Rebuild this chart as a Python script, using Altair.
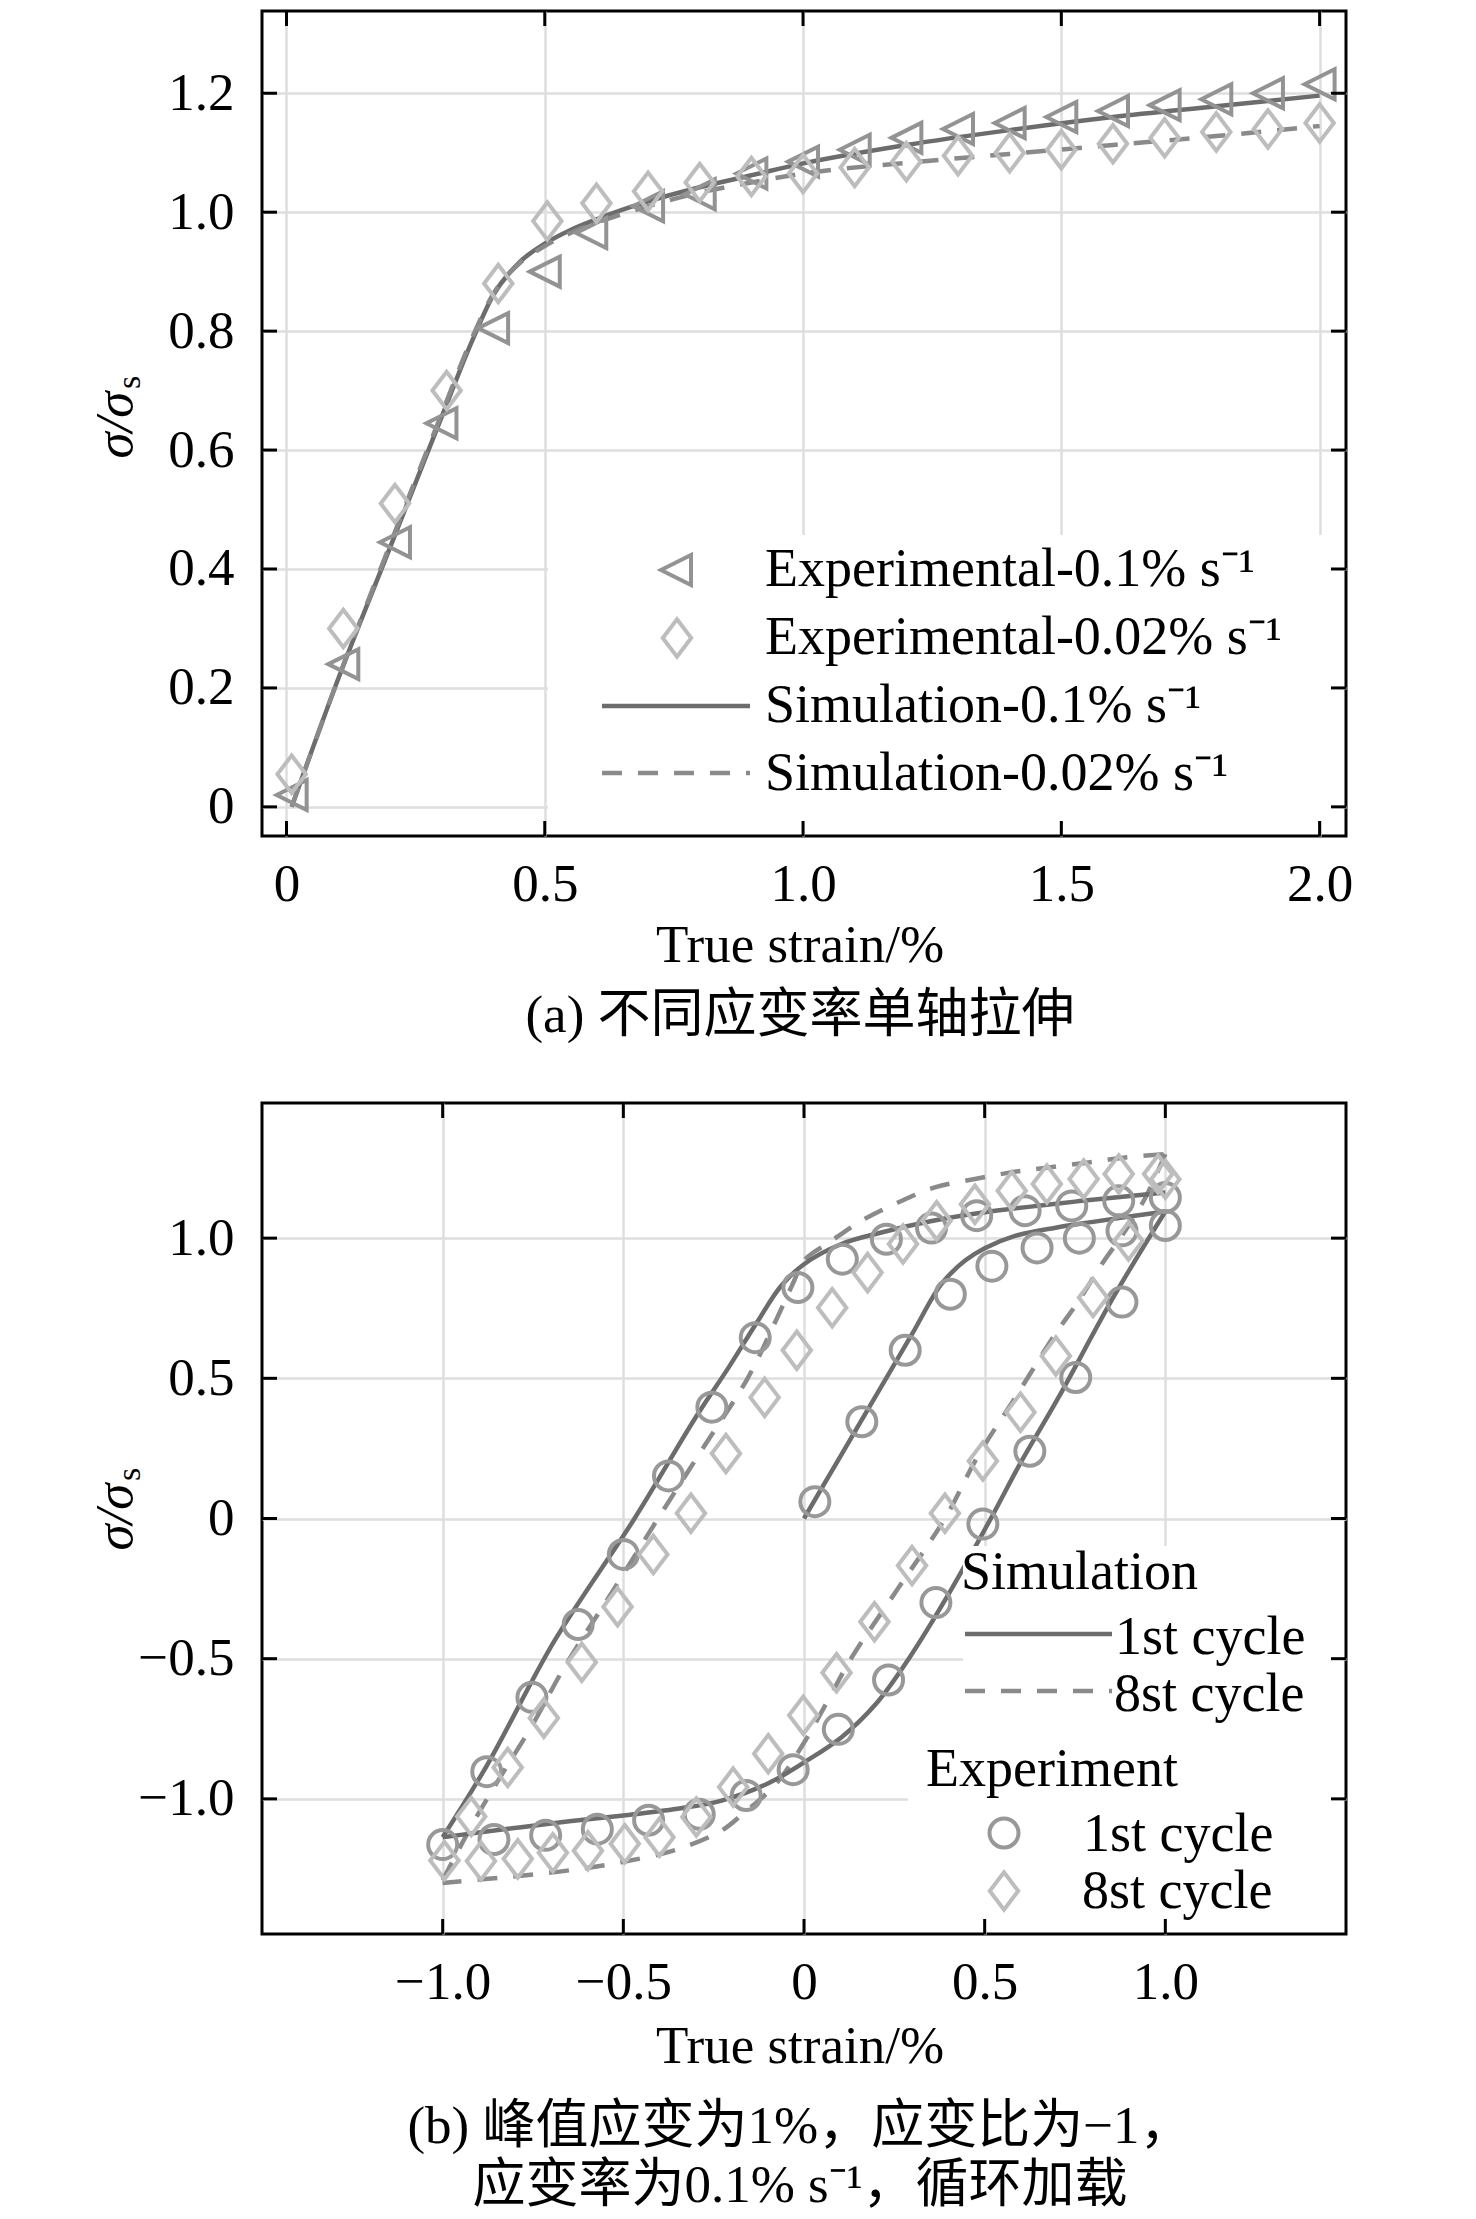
import altair as alt
import pandas as pd

SERIF = "Liberation Serif"
CJK = "Liberation Serif, Noto Sans CJK SC"
FS = 53
LFS = 54

# ---------------- panel (a) data ----------------
a_tri_x = [0.01, 0.11, 0.21, 0.30, 0.40, 0.50, 0.59, 0.70, 0.80, 0.90, 1.00,
           1.10, 1.20, 1.30, 1.40, 1.50, 1.60, 1.70, 1.80, 1.90, 2.00]
a_tri_y = [0.02, 0.24, 0.445, 0.645, 0.805, 0.90, 0.965, 1.01, 1.03, 1.065, 1.085,
           1.105, 1.125, 1.14, 1.15, 1.16, 1.17, 1.18, 1.19, 1.20, 1.215]
a_dia_x = [0.01, 0.11, 0.21, 0.31, 0.41, 0.505, 0.60, 0.70, 0.80, 0.90, 1.00,
           1.10, 1.20, 1.30, 1.40, 1.50, 1.60, 1.70, 1.80, 1.90, 2.00]
a_dia_y = [0.055, 0.30, 0.51, 0.70, 0.88, 0.985, 1.015, 1.035, 1.05, 1.06, 1.065,
           1.075, 1.085, 1.095, 1.10, 1.105, 1.115, 1.125, 1.135, 1.14, 1.15]
a_sim_x = [0.01, 0.1, 0.2, 0.3, 0.36, 0.4, 0.45, 0.5, 0.55, 0.6, 0.7, 0.8, 0.9,
           1.0, 1.2, 1.4, 1.6, 1.8, 2.0]
a_sim_fast = [0.0, 0.215, 0.435, 0.655, 0.785, 0.86, 0.915, 0.947, 0.97, 0.988, 1.018,
              1.042, 1.062, 1.082, 1.113, 1.138, 1.16, 1.178, 1.196]
a_sim_slow = [0.0, 0.215, 0.44, 0.66, 0.79, 0.862, 0.913, 0.943, 0.965, 0.982, 1.01,
              1.033, 1.05, 1.065, 1.083, 1.098, 1.113, 1.128, 1.145]
a_xticks = [0, 0.5, 1.0, 1.5, 2.0]
a_yticks = [0, 0.2, 0.4, 0.6, 0.8, 1.0, 1.2]

# ---------------- panel (b) data ----------------
# simulation, 1st cycle: initial loading / unloading / reloading
b_s1_load_x = [0.0, 0.1, 0.2, 0.3, 0.38, 0.445, 0.5, 0.584, 0.7, 0.8, 0.9, 1.0]
b_s1_load_y = [0.0, 0.22, 0.44, 0.66, 0.836, 0.919, 0.964, 1.008, 1.038, 1.058, 1.077, 1.095]
b_s1_unl_x = [1.0, 0.861, 0.704, 0.6, 0.517, 0.4, 0.29, 0.2, 0.104, 0.0, -0.1, -0.228,
              -0.35, -0.506, -0.65, -0.783, -0.9, -1.0]
b_s1_unl_y = [1.095, 0.80, 0.431, 0.2, 0.0, -0.27, -0.5, -0.66, -0.78, -0.87, -0.945, -1.006,
              -1.035, -1.06, -1.08, -1.101, -1.12, -1.137]
b_s1_rel_x = [-1.0, -0.875, -0.69, -0.469, -0.3, -0.208, -0.13, -0.063, 0.0, 0.1035,
              0.214, 0.35, 0.5, 0.77, 1.0]
b_s1_rel_y = [-1.137, -0.875, -0.435, 0.0, 0.36, 0.54, 0.70, 0.83, 0.907, 0.979,
              1.02, 1.06, 1.092, 1.133, 1.163]
# simulation, 8th cycle: unloading / reloading
b_s8_unl_x = [1.0, 0.945, 0.889, 0.824, 0.76, 0.695, 0.584, 0.48, 0.39, 0.26, 0.13, 0.07,
              0.0, -0.08, -0.17, -0.228, -0.35, -0.506, -0.65, -0.783, -0.9, -1.0]
b_s8_unl_y = [1.30, 1.145, 1.026, 0.907, 0.776, 0.657, 0.43, 0.22, 0.0, -0.25, -0.5, -0.64,
              -0.80, -0.95, -1.054, -1.113, -1.18, -1.226, -1.255, -1.274, -1.288, -1.30]
b_s8_rel_x = [-1.0, -0.912, -0.83, -0.755, -0.663, -0.53, -0.404, -0.28, -0.156, -0.08,
              -0.03, 0.0, 0.076, 0.159, 0.26, 0.362, 0.473, 0.575, 0.677, 0.787, 0.889, 1.0]
b_s8_rel_y = [-1.29, -1.077, -0.90, -0.744, -0.53, -0.26, 0.0, 0.25, 0.5, 0.70,
              0.84, 0.92, 0.99, 1.062, 1.127, 1.181, 1.211, 1.235, 1.252, 1.27, 1.288, 1.30]
# experiment, 1st cycle (circles)
b_c1_x = [0.03, 0.16, 0.28, 0.405, 0.52, 0.645, 0.762, 0.88, 1.0,
          0.88, 0.752, 0.625, 0.495, 0.365, 0.234, 0.095, -0.03, -0.16, -0.29, -0.43,
          -0.572, -0.715, -0.858, -1.0,
          -0.878, -0.753, -0.625, -0.5, -0.375, -0.255, -0.135, -0.017, 0.106, 0.228,
          0.353, 0.478, 0.612, 0.741, 0.871, 1.0]
b_c1_y = [0.06, 0.345, 0.60, 0.80, 0.90, 0.965, 1.0, 1.026, 1.045,
          0.772, 0.503, 0.24, -0.02, -0.30, -0.576, -0.752, -0.896, -0.988, -1.055, -1.076,
          -1.108, -1.13, -1.145, -1.163,
          -0.903, -0.638, -0.378, -0.128, 0.152, 0.397, 0.645, 0.824, 0.925, 0.996,
          1.036, 1.08, 1.098, 1.115, 1.133, 1.145]
# experiment, 8th cycle (diamonds)
b_c8_x = [-0.921, -0.82, -0.72, -0.615, -0.516, -0.417, -0.313, -0.216, -0.109, -0.02,
          0.078, 0.176, 0.274, 0.367, 0.473, 0.575, 0.672, 0.774, 0.871, 0.98, 1.0,
          0.898, 0.8, 0.697, 0.599, 0.495, 0.39, 0.299, 0.195, 0.09, -0.002, -0.099,
          -0.196, -0.298, -0.4, -0.496, -0.598, -0.695, -0.792, -0.894, -0.995]
b_c8_y = [-1.063, -0.888, -0.712, -0.513, -0.315, -0.128, 0.019, 0.232, 0.432, 0.60,
          0.752, 0.877, 0.979, 1.062, 1.121, 1.169, 1.193, 1.211, 1.229, 1.229, 1.21,
          0.99, 0.788, 0.58, 0.379, 0.205, 0.019, -0.168, -0.368, -0.55, -0.702, -0.839,
          -0.958, -1.065, -1.137, -1.16, -1.185, -1.192, -1.214, -1.222, -1.22]
b_ticks = [-1.0, -0.5, 0, 0.5, 1.0]

# ---------------- styling ----------------
W = 1084
HA = 825
HB = 831
TL = 15  # inward tick length

TRI = "M-1,0L1,-1L1,1Z"
DIA = "M0,-1L0.76,0L0,1L-0.76,0Z"
C_TRI = "#939393"
C_DIA = "#bdbdbd"
C_CIR = "#989898"
C_SOLID = "#6c6c6c"
C_DASH = "#8a8a8a"
GRID = "#dedede"
DASH = [20, 16]

dummy = pd.DataFrame({"d": [0]})


def axis(vals, pad):
    return alt.Axis(values=vals, title=None, ticks=False, domain=False, grid=True,
                    gridColor=GRID, gridWidth=2.5, labelFont=SERIF, labelFontSize=FS,
                    labelColor="black", labelPadding=pad, labelOverlap=False,
                    labelFlush=False,
                    labelExpr="datum.value == 0 ? '0' : format(datum.value, '.1f')")


def enc(xdom, ydom, xt, yt):
    X = alt.X("x:Q", scale=alt.Scale(domain=xdom, nice=False, zero=False), axis=axis(xt, 22))
    Y = alt.Y("y:Q", scale=alt.Scale(domain=ydom, nice=False, zero=False), axis=axis(yt, 28))
    return X, Y


def ticks(X, Y, xt, yt, H):
    dx = pd.DataFrame({"x": xt})
    dy = pd.DataFrame({"y": yt})
    r = dict(color="black", strokeWidth=3)
    return [
        alt.Chart(dx).mark_rule(**r).encode(x=X, y=alt.value(H), y2=alt.value(H - TL)),
        alt.Chart(dx).mark_rule(**r).encode(x=X, y=alt.value(0), y2=alt.value(TL)),
        alt.Chart(dy).mark_rule(**r).encode(y=Y, x=alt.value(0), x2=alt.value(TL)),
        alt.Chart(dy).mark_rule(**r).encode(y=Y, x=alt.value(W), x2=alt.value(W - TL)),
    ]


def txt(s, x, y, align="left", size=FS, font=SERIF, **kw):
    return alt.Chart(dummy).mark_text(text=s, align=align, baseline="alphabetic",
                                      font=font, fontSize=size, color="black", **kw).encode(
        x=alt.value(x), y=alt.value(y))


def sym(shape, size, color, x, y):
    return alt.Chart(dummy).mark_point(shape=shape, size=size, filled=False, color=color,
                                       strokeWidth=4, opacity=1).encode(
        x=alt.value(x), y=alt.value(y))


def box(x1, x2, y1, y2):
    return alt.Chart(dummy).mark_rect(color="white").encode(
        x=alt.value(x1), x2=alt.value(x2), y=alt.value(y1), y2=alt.value(y2))


def ytitle():
    return [
        alt.Chart(dummy).mark_text(text="σ/σ", angle=270, align="center", baseline="middle",
                                   font=SERIF, fontSize=FS, fontStyle="italic",
                                   color="black").encode(x=alt.value(-146), y=alt.value(414)),
        alt.Chart(dummy).mark_text(text="s", angle=270, align="left", baseline="middle",
                                   font=SERIF, fontSize=34, color="black").encode(
            x=alt.value(-132), y=alt.value(378)),
    ]


# ---------------- panel (a) ----------------
XA, YA = enc([-0.0474, 2.0511], [-0.049, 1.3383], a_xticks, a_yticks)
a_layers = [
    alt.Chart(pd.DataFrame({"x": a_sim_x, "y": a_sim_fast})).mark_line(
        color=C_SOLID, strokeWidth=4.5, interpolate="monotone").encode(x=XA, y=YA),
    alt.Chart(pd.DataFrame({"x": a_sim_x, "y": a_sim_slow})).mark_line(
        color=C_DASH, strokeWidth=4.5, strokeDash=DASH, interpolate="monotone").encode(x=XA, y=YA),
    alt.Chart(pd.DataFrame({"x": a_tri_x, "y": a_tri_y})).mark_point(
        shape=TRI, size=900, filled=False, color=C_TRI, strokeWidth=4, opacity=1).encode(x=XA, y=YA),
    alt.Chart(pd.DataFrame({"x": a_dia_x, "y": a_dia_y})).mark_point(
        shape=DIA, size=1400, filled=False, color=C_DIA, strokeWidth=4, opacity=1).encode(x=XA, y=YA),
    box(286, W - 3, 524, 810),
]
a_layers += ticks(XA, YA, a_xticks, a_yticks, HA)
a_layers += [
    sym(TRI, 900, C_TRI, 414, 559),
    txt("Experimental-0.1% s⁻¹", 503, 575, size=LFS),
    sym(DIA, 1400, C_DIA, 415, 627),
    txt("Experimental-0.02% s⁻¹", 503, 643, size=LFS),
    alt.Chart(dummy).mark_rule(color=C_SOLID, strokeWidth=4.5).encode(
        x=alt.value(340), x2=alt.value(488), y=alt.value(695)),
    txt("Simulation-0.1% s⁻¹", 503, 711, size=LFS),
    alt.Chart(dummy).mark_rule(color=C_DASH, strokeWidth=4.5, strokeDash=DASH).encode(
        x=alt.value(340), x2=alt.value(488), y=alt.value(762)),
    txt("Simulation-0.02% s⁻¹", 503, 779, size=LFS),
    txt("True strain/%", 538, 951, align="center"),
    txt("(a) 不同应变率单轴拉伸", 538, 1021, align="center", font=CJK),
]
a_layers += ytitle()
top = alt.layer(*a_layers).properties(width=W, height=HA)

# ---------------- panel (b) ----------------
XB, YB = enc([-1.5, 1.5], [-1.482, 1.482], b_ticks, b_ticks)


def seg_df(parts):
    rows = []
    for k, (xs, ys) in enumerate(parts):
        for i, (xx, yy) in enumerate(zip(xs, ys)):
            rows.append({"x": xx, "y": yy, "seg": k, "i": i})
    return pd.DataFrame(rows)


df_s1 = seg_df([(b_s1_load_x, b_s1_load_y), (b_s1_unl_x, b_s1_unl_y), (b_s1_rel_x, b_s1_rel_y)])
df_s8 = seg_df([(b_s8_unl_x, b_s8_unl_y), (b_s8_rel_x, b_s8_rel_y)])

b_layers = [
    alt.Chart(df_s8).mark_line(color=C_DASH, strokeWidth=4.5, strokeDash=DASH,
                               interpolate="catmull-rom").encode(
        x=XB, y=YB, detail="seg:N", order="i:Q"),
    alt.Chart(df_s1).mark_line(color=C_SOLID, strokeWidth=4.5,
                               interpolate="catmull-rom").encode(
        x=XB, y=YB, detail="seg:N", order="i:Q"),
    alt.Chart(pd.DataFrame({"x": b_c1_x, "y": b_c1_y})).mark_point(
        shape="circle", size=841, filled=False, color=C_CIR, strokeWidth=4, opacity=1).encode(x=XB, y=YB),
    alt.Chart(pd.DataFrame({"x": b_c8_x, "y": b_c8_y})).mark_point(
        shape=DIA, size=1400, filled=False, color=C_DIA, strokeWidth=4, opacity=1).encode(x=XB, y=YB),
    box(701, W - 3, 443, 632),
    box(646, W - 3, 630, HB - 3),
]
b_layers += ticks(XB, YB, b_ticks, b_ticks, HB)
b_layers += [
    txt("Simulation", 699, 486, size=LFS),
    alt.Chart(dummy).mark_rule(color=C_SOLID, strokeWidth=4.5).encode(
        x=alt.value(703), x2=alt.value(850), y=alt.value(531)),
    txt("1st cycle", 853, 551, size=LFS),
    alt.Chart(dummy).mark_rule(color=C_DASH, strokeWidth=4.5, strokeDash=DASH).encode(
        x=alt.value(703), x2=alt.value(850), y=alt.value(588)),
    txt("8st cycle", 852, 608, size=LFS),
    txt("Experiment", 664, 683, size=LFS),
    sym("circle", 841, C_CIR, 742, 730),
    txt("1st cycle", 821, 748, size=LFS),
    sym(DIA, 1400, C_DIA, 742, 788),
    txt("8st cycle", 820, 805, size=LFS),
    txt("True strain/%", 538, 960, align="center"),
    txt("(b) 峰值应变为1%，应变比为−1，", 538, 1040, align="center", font=CJK),
    txt("应变率为0.1% s⁻¹，循环加载", 538, 1099, align="center", font=CJK),
]
b_layers += ytitle()
bot = alt.layer(*b_layers).properties(width=W, height=HB)

chart = alt.vconcat(top, bot, spacing=55).properties(
    padding={"left": 80, "top": 0, "right": 5, "bottom": 0},
    background="white",
).configure_view(stroke="black", strokeWidth=3)

chart.save("out.html", embed_options={"renderer": "svg", "actions": False})
